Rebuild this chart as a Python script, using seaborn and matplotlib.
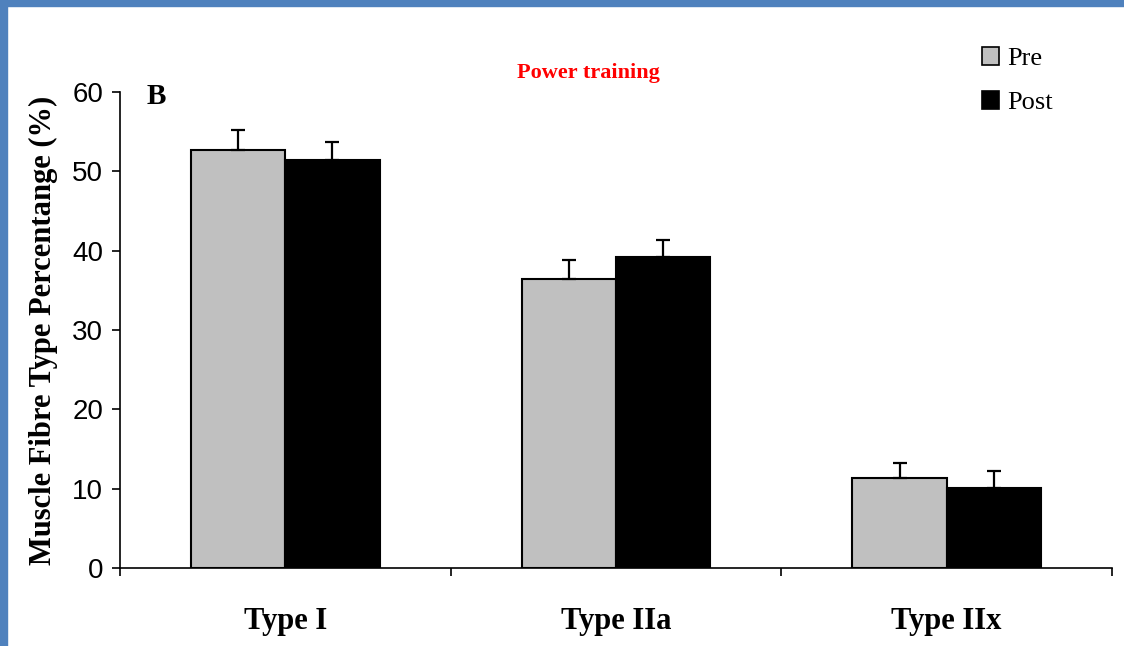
import matplotlib
matplotlib.use("Agg")
import matplotlib.pyplot as plt
from matplotlib.patches import Patch, Rectangle
import seaborn as sns
import pandas as pd

categories = ["Type I", "Type IIa", "Type IIx"]
groups = ["Pre", "Post"]
pre_values = [52.7, 36.4, 11.3]
post_values = [51.4, 39.2, 10.1]
pre_err = [2.5, 2.4, 1.9]
post_err = [2.3, 2.2, 2.1]
y_ticks = [0, 10, 20, 30, 40, 50, 60]

sns.set_style("white")
plt.rcParams['font.family'] = ['Liberation Serif', 'DejaVu Serif']
plt.rcParams['text.color'] = 'black'
plt.rcParams['axes.labelcolor'] = 'black'
plt.rcParams['xtick.color'] = 'black'
plt.rcParams['ytick.color'] = 'black'

df = pd.DataFrame({
    "cat": categories * 2,
    "grp": ["Pre"] * 3 + ["Post"] * 3,
    "val": pre_values + post_values,
})
errs = {"Pre": pre_err, "Post": post_err}
colors = {"Pre": "#c0c0c0", "Post": "#000000"}

fig = plt.figure(figsize=(11.24, 6.46), dpi=100)
ax = fig.add_axes([120/1124, 1-568/646, (1112-120)/1124, (568-92)/646])

sns.barplot(data=df, x="cat", y="val", hue="grp", hue_order=groups, order=categories,
            palette=colors, width=0.57, edgecolor="black", linewidth=1.5,
            errorbar=None, legend=False, ax=ax, gap=0)

for cont, g in zip(ax.containers, groups):
    for patch, e in zip(cont.patches, errs[g]):
        xc = patch.get_x() + patch.get_width() / 2
        h = patch.get_height()
        ax.errorbar(xc, h, yerr=[[0], [e]], fmt="none", ecolor="black",
                    elinewidth=1.6, capsize=5, capthick=1.6, zorder=1)

ax.set_xlim(-0.5, 2.5)
ax.set_ylim(0, 60)
ax.set_yticks(y_ticks)
ax.set_yticklabels([str(t) for t in y_ticks], family="Liberation Sans", fontsize=20, color="black")
ax.set_xticks([-0.5, 0.5, 1.5, 2.5])
ax.set_xticklabels([])
ax.tick_params(axis="both", direction="out", length=6, width=1.2, color="black", left=True, bottom=True)
ax.tick_params(axis="y", pad=6)
for s in ["top", "right"]:
    ax.spines[s].set_visible(False)
for s in ["left", "bottom"]:
    ax.spines[s].set_color("black")
    ax.spines[s].set_linewidth(1.2)

for i, c in enumerate(categories):
    ax.text(i, -6.7, c, ha="center", va="center", fontsize=22, fontweight="bold",
            color="black", transform=ax.transData)

ax.set_xlabel("")
ax.set_ylabel("Muscle Fibre Type Percentange (%)", fontsize=22, fontweight="bold",
              labelpad=10, color="black")

fig.text(588/1124, 1-73/646, "Power training", color="red", fontsize=16,
         fontweight="bold", ha="center", va="center")
fig.text(147/1124, 1-97/646, "B", fontsize=21, fontweight="bold", ha="left", va="center",
         color="black")

handles = [Patch(facecolor=colors[g], edgecolor="black", linewidth=1.2, label=g) for g in groups]
fig.legend(handles=handles, loc="upper left", bbox_to_anchor=(982/1124, 1-47/646),
           frameon=False, fontsize=19, handlelength=0.65, handleheight=0.65,
           handletextpad=0.3, labelspacing=0.8, borderpad=0, borderaxespad=0)

blue = "#4f81bd"
fig.patches.append(Rectangle((0, 0), 7/1124, 1, transform=fig.transFigure, color=blue, zorder=10))
fig.patches.append(Rectangle((0, 1-6/646), 1, 6/646, transform=fig.transFigure, color=blue, zorder=10))

fig.savefig("out.png", dpi=100)
